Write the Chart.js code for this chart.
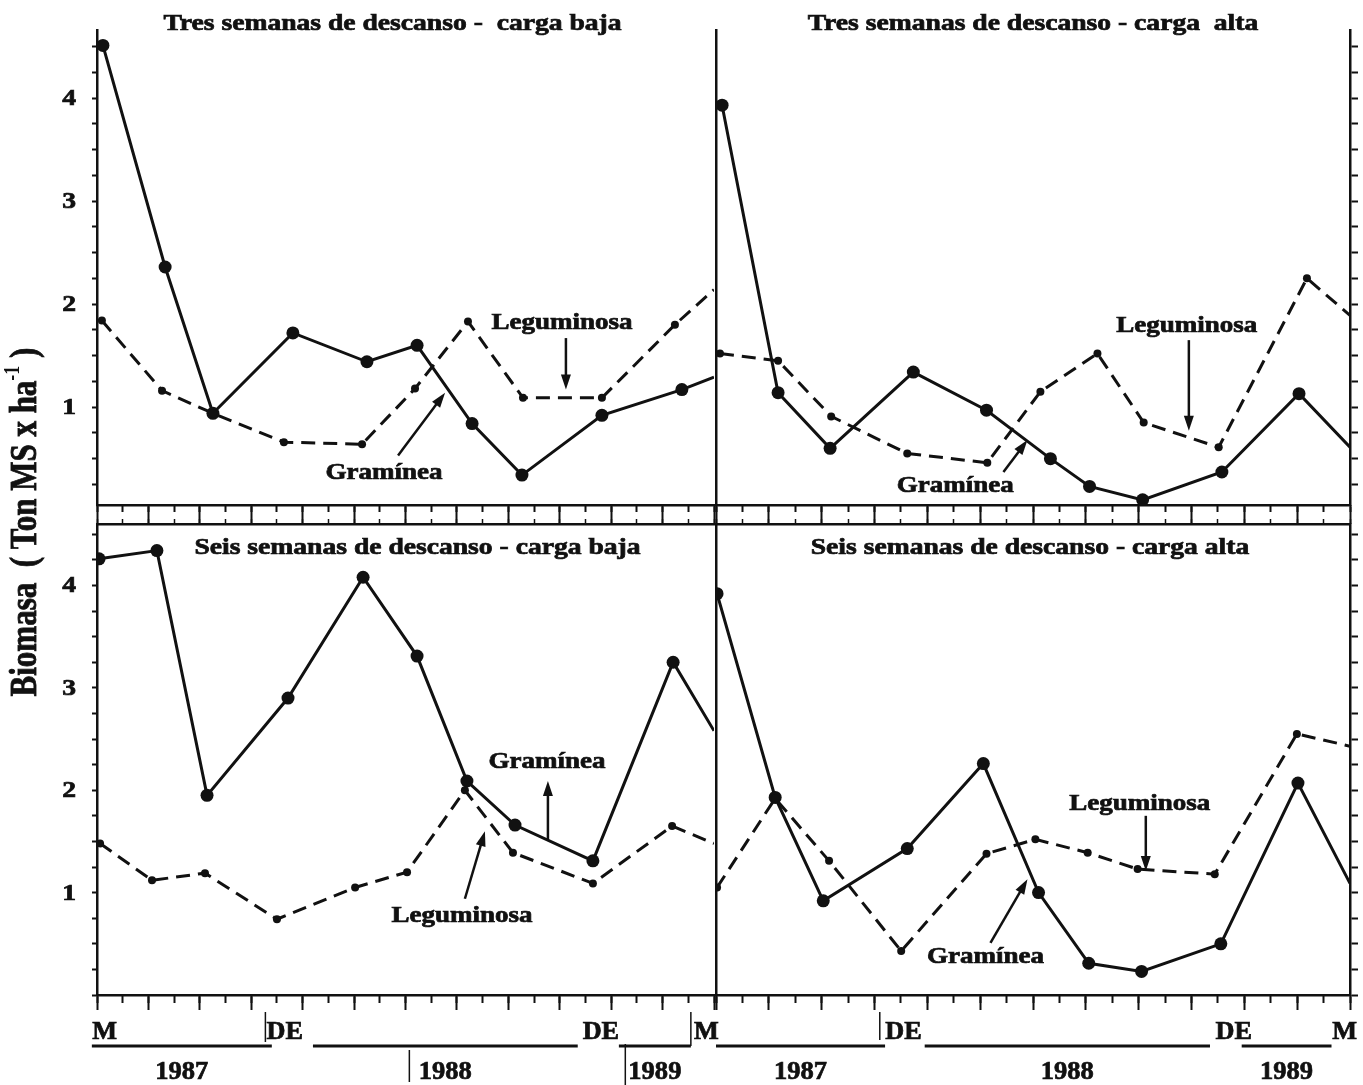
<!DOCTYPE html>
<html>
<head>
<meta charset="utf-8">
<script src="https://cdn.jsdelivr.net/npm/chart.js@4.4.0/dist/chart.umd.min.js"></script>
<style>
  html, body { margin: 0; padding: 0; background: #fff; }
  #wrap { position: relative; width: 1363px; height: 1085px; }
  #wrap canvas { position: absolute; left: 0; top: 0; }
</style>
</head>
<body>
<div id="wrap">
  <canvas id="tl" width="1363" height="1085"></canvas>
  <canvas id="tr" width="1363" height="1085"></canvas>
  <canvas id="bl" width="1363" height="1085"></canvas>
  <canvas id="br" width="1363" height="1085"></canvas>
</div>
<script>
// x = months since May 1987 (0) .. May 1989 (24)

// Tres semanas de descanso - carga baja
const tlGramX = [0.23, 2.65, 4.51, 7.62, 10.50, 12.45, 14.59, 16.53, 19.64, 22.75, 24];
const tlGramY = [4.51, 2.36, 0.94, 1.72, 1.44, 1.60, 0.84, 0.34, 0.92, 1.17, 1.29];
const tlLegX  = [0.19, 2.53, 4.51, 7.27, 10.31, 12.37, 14.43, 16.57, 19.64, 22.48, 24];
const tlLegY  = [1.84, 1.16, 0.94, 0.66, 0.64, 1.18, 1.83, 1.09, 1.09, 1.80, 2.14];

// Tres semanas de descanso - carga alta
const trGramX = [0.23, 2.35, 4.32, 7.47, 10.24, 12.66, 14.14, 16.15, 19.15, 22.07, 24];
const trGramY = [3.93, 1.14, 0.60, 1.34, 0.97, 0.50, 0.23, 0.10, 0.37, 1.13, 0.61];
const trLegX  = [0.15, 2.35, 4.36, 7.24, 10.27, 12.28, 14.44, 16.19, 19.03, 22.37, 24];
const trLegY  = [1.52, 1.45, 0.91, 0.55, 0.46, 1.15, 1.52, 0.85, 0.61, 2.25, 1.89];

// Seis semanas de descanso - carga baja
const blGramX = [0.08, 2.33, 4.28, 7.43, 10.35, 12.45, 14.39, 16.26, 19.29, 22.41, 24];
const blGramY = [4.26, 4.34, 1.95, 2.90, 4.08, 3.31, 2.09, 1.66, 1.31, 3.25, 2.58];
const blLegX  = [0.12, 2.14, 4.20, 7.00, 10.04, 12.06, 14.31, 16.18, 19.29, 22.37, 24];
const blLegY  = [1.48, 1.12, 1.19, 0.74, 1.05, 1.20, 2.00, 1.39, 1.09, 1.65, 1.48];

// Seis semanas de descanso - carga alta
const brGramX = [0.04, 2.24, 4.06, 7.24, 10.12, 12.21, 14.11, 16.11, 19.11, 22.03, 24];
const brGramY = [3.92, 1.93, 0.92, 1.43, 2.26, 1.00, 0.31, 0.23, 0.50, 2.07, 1.09];
const brLegX  = [0.04, 2.24, 4.28, 7.01, 10.24, 12.09, 14.07, 15.96, 18.88, 21.99, 24];
const brLegY  = [1.05, 1.92, 1.31, 0.43, 1.38, 1.52, 1.39, 1.23, 1.18, 2.55, 2.43];

const yTickLabels = [1, 2, 3, 4];
const panelTitles = [
  'Tres semanas de descanso -  carga baja',
  'Tres semanas de descanso - carga  alta',
  'Seis semanas de descanso - carga baja',
  'Seis semanas de descanso - carga alta'
];
const seriesNames = ['Gramínea', 'Leguminosa'];
const yearLabels = ['1987', '1988', '1989'];
const leftMonthLabels = ['M', 'DE', 'DE', 'M'];
const leftMonthPos = [0.3, 7.3, 19.6, 23.7];
const rightMonthLabels = ['DE', 'DE', 'M'];
const rightMonthPos = [7.1, 19.6, 23.8];
const leftYearSpans = [[-0.2, 6.8], [8.4, 18.7], [20.3, 23.1]];
const rightYearSpans = [[0, 6.4], [7.9, 18.7], [19.9, 23.3]];

const ink = '#111';
const W = 1363, H = 1085;
const STRETCH = 1.2;
const FONT = '"Liberation Serif", "Times New Roman", serif';

function wideText(ctx, text, x, y, size, align, base, stretch) {
  ctx.save();
  ctx.translate(x, y);
  ctx.scale(stretch || STRETCH, 1);
  ctx.font = 'bold ' + size + 'px ' + FONT;
  ctx.textAlign = align || 'center';
  ctx.textBaseline = base || 'alphabetic';
  ctx.lineWidth = 0.7;
  ctx.fillText(text, 0, 0);
  ctx.strokeText(text, 0, 0);
  ctx.restore();
}

function arrow(ctx, x1, y1, x2, y2) {
  const a = Math.atan2(y2 - y1, x2 - x1);
  const hl = 15, hw = 5;
  ctx.save();
  ctx.lineWidth = 2.5;
  ctx.beginPath();
  ctx.moveTo(x1, y1);
  ctx.lineTo(x2 - Math.cos(a) * hl * 0.8, y2 - Math.sin(a) * hl * 0.8);
  ctx.stroke();
  ctx.beginPath();
  ctx.moveTo(x2, y2);
  ctx.lineTo(x2 - Math.cos(a) * hl - Math.sin(a) * hw, y2 - Math.sin(a) * hl + Math.cos(a) * hw);
  ctx.lineTo(x2 - Math.cos(a) * hl + Math.sin(a) * hw, y2 - Math.sin(a) * hl - Math.cos(a) * hw);
  ctx.closePath();
  ctx.fill();
  ctx.restore();
}

function makeDeco(p) {
  return {
    id: 'deco_' + p.id,
    afterDraw(chart) {
      const ctx = chart.ctx, a = chart.chartArea;
      const xs = chart.scales.x, ys = chart.scales.y;
      ctx.save();
      ctx.fillStyle = ink;
      ctx.strokeStyle = ink;

      // panel title
      const ty = p.titleInside ? a.top + 30 : a.top;
      wideText(ctx, p.title, (a.left + a.right) / 2 + p.titleDx, ty, 23, 'center');

      // y tick labels
      if (p.yLabels) {
        yTickLabels.forEach(v => wideText(ctx, String(v), a.left - 21, ys.getPixelForValue(v) + 1, 23, 'right', 'middle'));
      }

      // series annotations
      p.notes.forEach(n => {
        wideText(ctx, n.text, xs.getPixelForValue(n.at[0]), ys.getPixelForValue(n.at[1]), 22.5, 'center', 'middle');
        arrow(ctx, xs.getPixelForValue(n.from[0]), ys.getPixelForValue(n.from[1]),
                   xs.getPixelForValue(n.to[0]), ys.getPixelForValue(n.to[1]));
      });

      // date labels under the bottom panels
      if (p.months) {
        p.months.forEach((t, i) => wideText(ctx, t, xs.getPixelForValue(p.monthPos[i]), 1039, 25, 'center', 'alphabetic', 1.05));
        ctx.lineWidth = 3;
        p.spans.forEach((s, i) => {
          const x1 = xs.getPixelForValue(s[0]), x2 = xs.getPixelForValue(s[1]);
          ctx.beginPath();
          ctx.moveTo(x1, 1046);
          ctx.lineTo(x2, 1046);
          ctx.stroke();
          wideText(ctx, yearLabels[i], (x1 + x2) / 2, 1079, 26, 'center', 'alphabetic', 1.02);
        });
        ctx.lineWidth = 1.5;
        p.bars.forEach(b => {
          const bx = xs.getPixelForValue(b[0]);
          ctx.beginPath();
          ctx.moveTo(bx, b[1]);
          ctx.lineTo(bx, b[2]);
          ctx.stroke();
        });
      }

      // shared y-axis title
      if (p.yTitle) {
        ctx.save();
        ctx.translate(23, 522);
        ctx.scale(1.25, 1);
        ctx.rotate(-Math.PI / 2);
        const big = 'bold 31px ' + FONT, small = 'bold 18px ' + FONT;
        const main = 'Biomasa  ( Ton MS x ha', sup = '-1', tail = ' )';
        ctx.font = big;
        const w1 = ctx.measureText(main).width, w3 = ctx.measureText(tail).width;
        ctx.font = small;
        const w2 = ctx.measureText(sup).width;
        let x0 = -(w1 + w2 + w3) / 2;
        ctx.textBaseline = 'alphabetic';
        ctx.textAlign = 'left';
        ctx.lineWidth = 0.7;
        ctx.font = big; ctx.fillText(main, x0, 10); ctx.strokeText(main, x0, 10); x0 += w1;
        ctx.font = small; ctx.fillText(sup, x0, -3); x0 += w2;
        ctx.font = big; ctx.fillText(tail, x0, 10); ctx.strokeText(tail, x0, 10);
        ctx.restore();
      }
      ctx.restore();
    }
  };
}

function series(xs, ys, solid) {
  const last = xs.length - 1;
  return {
    data: xs.map((x, i) => ({ x: x, y: ys[i] })),
    borderColor: ink,
    backgroundColor: ink,
    borderWidth: 3,
    borderDash: solid ? [] : [14, 8],
    pointRadius: c => c.dataIndex === last ? 0 : (solid ? 6.5 : 4),
    pointBorderWidth: 0,
    pointBackgroundColor: ink,
    tension: 0,
    xAxisID: 'x',
    yAxisID: 'y'
  };
}

function stepTicks(step) {
  return s => {
    const t = [];
    for (let v = Math.ceil(s.min / step - 1e-9) * step; v <= s.max + 1e-9; v += step) t.push({ value: +v.toFixed(4) });
    s.ticks = t;
  };
}

function buildScales(p) {
  const flatX = s => { s.height = 0; };
  const flatY = s => { s.width = 0; };
  const sc = {
    x: {
      type: 'linear', position: 'bottom', min: 0, max: 24,
      afterBuildTicks: stepTicks(2), afterFit: flatX,
      ticks: { display: false },
      border: { display: true, color: ink, width: 2.5 },
      grid: { drawOnChartArea: false, tickLength: p.longTick, tickColor: ink, tickWidth: 2 }
    },
    x2: {
      type: 'linear', position: 'bottom', min: 0, max: 24,
      afterBuildTicks: stepTicks(1), afterFit: flatX,
      ticks: { display: false },
      border: { display: false },
      grid: { drawOnChartArea: false, tickLength: p.shortTick, tickColor: ink, tickWidth: 2 }
    },
    y: {
      type: 'linear', position: 'left', min: p.yMin, max: p.yMax,
      afterBuildTicks: stepTicks(0.25), afterFit: flatY,
      ticks: { display: false },
      border: { display: true, color: ink, width: 2.5 },
      grid: { drawOnChartArea: false, drawTicks: p.yLabels, tickLength: 5, tickColor: ink, tickWidth: 2 }
    }
  };
  if (!p.yLabels) {
    sc.yr = {
      type: 'linear', position: 'right', min: p.yMin, max: p.yMax,
      afterBuildTicks: stepTicks(0.25), afterFit: flatY,
      ticks: { display: false },
      border: { display: true, color: ink, width: 2.5 },
      grid: { drawOnChartArea: false, tickLength: 8, tickColor: ink, tickWidth: 2 }
    };
  }
  if (p.titleInside) {
    sc.xt = {
      type: 'linear', position: 'top', min: 0, max: 24,
      afterBuildTicks: stepTicks(1), afterFit: flatX,
      ticks: { display: false },
      border: { display: true, color: ink, width: 2.5 },
      grid: { drawOnChartArea: false, tickLength: 5, tickColor: ink, tickWidth: 1.5 }
    };
  }
  return sc;
}

const panels = [
  {
    id: 'tl', box: [97, 30, 714, 505], yMin: 0.05, yMax: 4.66, yLabels: true, yTitle: true,
    title: panelTitles[0], titleDx: -13, titleInside: false, longTick: 19, shortTick: 7,
    gram: [tlGramX, tlGramY], leg: [tlLegX, tlLegY],
    notes: [
      { text: seriesNames[1], at: [18.09, 1.81], from: [18.24, 1.67], to: [18.24, 1.17] },
      { text: seriesNames[0], at: [11.16, 0.36], from: [11.71, 0.53], to: [13.54, 1.14] }
    ]
  },
  {
    id: 'tr', box: [716, 30, 1350, 505], yMin: 0.05, yMax: 4.66, yLabels: false,
    title: panelTitles[1], titleDx: 0, titleInside: false, longTick: 19, shortTick: 7,
    gram: [trGramX, trGramY], leg: [trLegX, trLegY],
    notes: [
      { text: seriesNames[1], at: [17.82, 1.79], from: [17.9, 1.65], to: [17.9, 0.77] },
      { text: seriesNames[0], at: [9.06, 0.23], from: [10.88, 0.37], to: [11.79, 0.68] }
    ]
  },
  {
    id: 'bl', box: [97, 524, 714, 995], yMin: 0, yMax: 4.6, yLabels: true,
    title: panelTitles[2], titleDx: 12, titleInside: true, longTick: 15, shortTick: 8,
    gram: [blGramX, blGramY], leg: [blLegX, blLegY],
    months: leftMonthLabels, monthPos: leftMonthPos, spans: leftYearSpans,
    bars: [[6.55, 1012, 1042], [23.1, 1012, 1046], [12.15, 1050, 1082], [20.55, 1044, 1086]],
    notes: [
      { text: seriesNames[0], at: [17.5, 2.27], from: [17.54, 1.51], to: [17.54, 2.09] },
      { text: seriesNames[1], at: [14.2, 0.77], from: [14.31, 0.94], to: [15.09, 1.60] }
    ]
  },
  {
    id: 'br', box: [716, 524, 1350, 995], yMin: 0, yMax: 4.6, yLabels: false,
    title: panelTitles[3], titleDx: -3, titleInside: true, longTick: 15, shortTick: 8,
    gram: [brGramX, brGramY], leg: [brLegX, brLegY],
    months: rightMonthLabels, monthPos: rightMonthPos, spans: rightYearSpans,
    bars: [[6.2, 1012, 1040]],
    notes: [
      { text: seriesNames[1], at: [16.04, 1.86], from: [16.27, 1.75], to: [16.27, 1.21] },
      { text: seriesNames[0], at: [10.2, 0.37], from: [10.39, 0.51], to: [11.79, 1.13] }
    ]
  }
];

panels.forEach(p => {
  const [l, t, r, b] = p.box;
  new Chart(document.getElementById(p.id), {
    type: 'line',
    data: {
      datasets: [
        series(p.leg[0], p.leg[1], false),
        series(p.gram[0], p.gram[1], true)
      ]
    },
    options: {
      responsive: false,
      devicePixelRatio: 1,
      animation: false,
      events: [],
      layout: { padding: { left: l, top: t, right: W - r, bottom: H - b } },
      plugins: { legend: { display: false }, tooltip: { enabled: false }, title: { display: false } },
      scales: buildScales(p)
    },
    plugins: [makeDeco(p)]
  });
});
</script>
</body>
</html>
